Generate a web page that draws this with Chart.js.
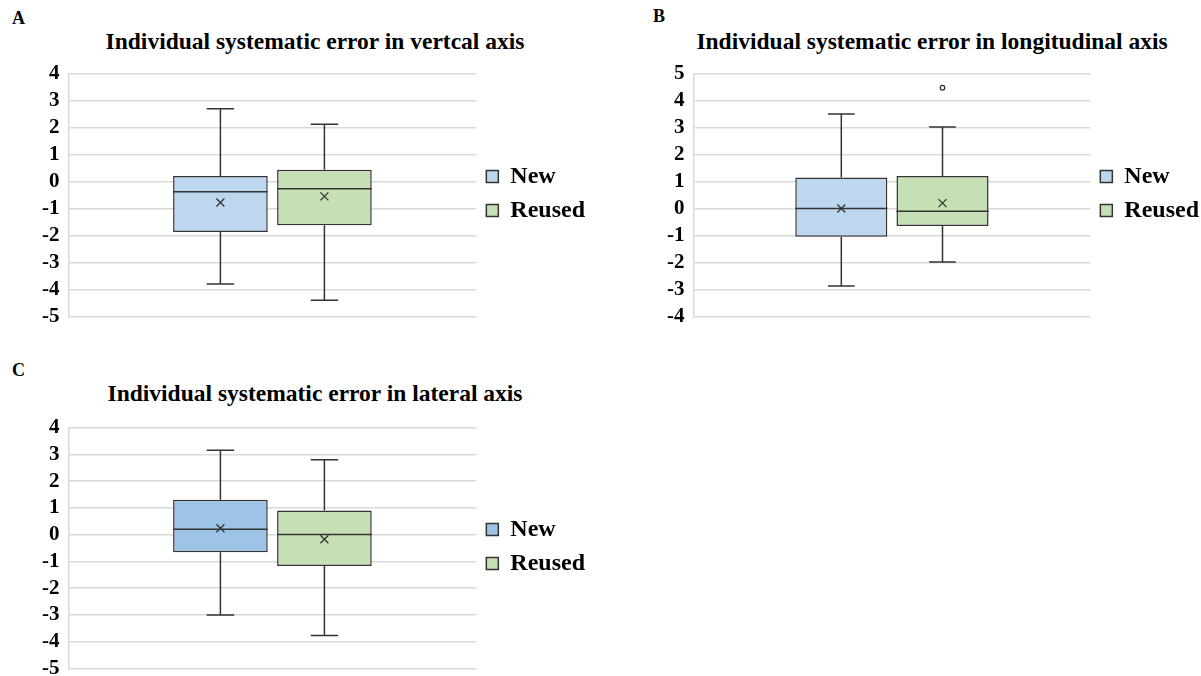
<!DOCTYPE html>
<html>
<head>
<meta charset="utf-8">
<script src="https://cdn.jsdelivr.net/npm/chart.js@4"></script>
<style>
    body { margin: 0; background: #fff; width: 1201px; height: 676px; overflow: hidden; position: relative; font-family: 'Liberation Serif', 'Times New Roman', serif; }
    .panel { position: absolute; font-weight: bold; font-size: 18px; color: #000; }
    .title { position: absolute; font-weight: bold; font-size: 23.5px; color: #000; text-align: center; white-space: nowrap; }
    canvas { position: absolute; }
</style>
</head>
<body>
<div class="panel" style="left:12px; top:8px;">A</div>
<div class="panel" style="left:653px; top:6px;">B</div>
<div class="panel" style="left:12px; top:360px;">C</div>

<div class="title" style="left:15px; width:600px; top:28px;">Individual systematic error in vertcal axis</div>
<div class="title" style="left:632px; width:600px; top:28px;">Individual systematic error in longitudinal axis</div>
<div class="title" style="left:15px; width:600px; top:380px;">Individual systematic error in lateral axis</div>

<canvas id="chartA" width="600" height="286" style="left:0; top:52px;"></canvas>
<canvas id="chartB" width="586" height="286" style="left:623px; top:52px;"></canvas>
<canvas id="chartC" width="600" height="284" style="left:0; top:406px;"></canvas>

<script>
// groups shown in every panel
const groups = ['New', 'Reused'];

// A: vertical axis (New, Reused)
const vertMin = [-3.8, -4.4];
const vertQ1 = [-1.87, -1.62];
const vertMedian = [-0.38, -0.27];
const vertQ3 = [0.2, 0.44];
const vertMax = [2.7, 2.12];
const vertMean = [-0.78, -0.55];
const vertOutliers = [[], []];

// B: longitudinal axis
const longMin = [-2.87, -1.98];
const longQ1 = [-1.05, -0.65];
const longMedian = [0, -0.1];
const longQ3 = [1.15, 1.2];
const longMax = [3.5, 3.02];
const longMean = [0, 0.2];
const longOutliers = [[], [4.48]];

// C: lateral axis
const latMin = [-3.0, -3.77];
const latQ1 = [-0.66, -1.17];
const latMedian = [0.2, 0];
const latQ3 = [1.3, 0.9];
const latMax = [3.15, 2.8];
const latMean = [0.24, -0.17];
const latOutliers = [[], []];

const serif = "'Liberation Serif', 'Times New Roman', serif";
const lineColor = '#333333';

// whiskers, median, mean cross and outliers on top of the floating bars
const boxWhiskers = {
    id: 'boxWhiskers',
    afterDatasetsDraw(chart) {
        const ctx = chart.ctx;
        const yScale = chart.scales.y;
        ctx.save();
        ctx.strokeStyle = lineColor;
        ctx.lineWidth = 1.5;
        chart.data.datasets.forEach((ds, i) => {
            const bar = chart.getDatasetMeta(i).data[0];
            const s = ds.stats;
            const x = bar.x;
            const half = bar.width / 2;
            const cap = bar.width * 0.145;
            const yMin = yScale.getPixelForValue(s.min);
            const yMax = yScale.getPixelForValue(s.max);
            const yQ1 = yScale.getPixelForValue(s.q1);
            const yQ3 = yScale.getPixelForValue(s.q3);
            const yMed = yScale.getPixelForValue(s.median);
            const yMean = yScale.getPixelForValue(s.mean);

            ctx.beginPath();
            // upper whisker
            ctx.moveTo(x, yQ3); ctx.lineTo(x, yMax);
            ctx.moveTo(x - cap, yMax); ctx.lineTo(x + cap, yMax);
            // lower whisker
            ctx.moveTo(x, yQ1); ctx.lineTo(x, yMin);
            ctx.moveTo(x - cap, yMin); ctx.lineTo(x + cap, yMin);
            // median
            ctx.moveTo(x - half, yMed); ctx.lineTo(x + half, yMed);
            ctx.stroke();

            // mean marker
            ctx.beginPath();
            const m = 4;
            ctx.moveTo(x - m, yMean - m); ctx.lineTo(x + m, yMean + m);
            ctx.moveTo(x + m, yMean - m); ctx.lineTo(x - m, yMean + m);
            ctx.lineWidth = 1.3;
            ctx.stroke();

            // outliers
            s.outliers.forEach(v => {
                ctx.beginPath();
                ctx.arc(x, yScale.getPixelForValue(v), 2.3, 0, Math.PI * 2);
                ctx.fillStyle = '#fff';
                ctx.fill();
                ctx.lineWidth = 1.2;
                ctx.stroke();
            });
            ctx.lineWidth = 1.5;
        });
        ctx.restore();
    }
};

function makeBoxChart(id, colors, mins, q1s, medians, q3s, maxs, means, outliers, yMin, yMax, padding) {
    const datasets = groups.map((g, i) => ({
        label: g,
        data: [[q1s[i], q3s[i]]],
        backgroundColor: colors[i],
        borderColor: lineColor,
        borderWidth: 1.5,
        borderSkipped: false,
        stats: {
            min: mins[i], q1: q1s[i], median: medians[i], q3: q3s[i],
            max: maxs[i], mean: means[i], outliers: outliers[i]
        }
    }));

    return new Chart(document.getElementById(id), {
        type: 'bar',
        data: { labels: [''], datasets: datasets },
        plugins: [boxWhiskers],
        options: {
            responsive: false,
            animation: false,
            layout: { padding: padding },
            categoryPercentage: 0.51,
            barPercentage: 0.91,
            plugins: {
                tooltip: { enabled: false },
                legend: {
                    position: 'right',
                    labels: {
                        color: '#000',
                        font: { family: serif, size: 24, weight: 'bold' },
                        boxWidth: 12,
                        boxHeight: 12,
                        padding: 10
                    }
                }
            },
            scales: {
                x: { display: false },
                y: {
                    min: yMin,
                    max: yMax,
                    ticks: {
                        stepSize: 1,
                        autoSkip: false,
                        color: '#000',
                        padding: 9,
                        font: { family: serif, size: 21, weight: 'bold' }
                    },
                    grid: { color: '#d9d9d9', lineWidth: 1.5, drawTicks: false },
                    border: { display: true, color: '#d9d9d9', width: 1.5 }
                }
            }
        }
    });
}

makeBoxChart('chartA', ['#BDD7EE', '#C5E0B4'],
    vertMin, vertQ1, vertMedian, vertQ3, vertMax, vertMean, vertOutliers,
    -5, 4, { left: 33, top: 4, bottom: 7, right: 5 });

makeBoxChart('chartB', ['#BDD7EE', '#C5E0B4'],
    longMin, longQ1, longMedian, longQ3, longMax, longMean, longOutliers,
    -4, 5, { left: 35, top: 4, bottom: 7, right: 0 });

makeBoxChart('chartC', ['#9DC3E6', '#C5E0B4'],
    latMin, latQ1, latMedian, latQ3, latMax, latMean, latOutliers,
    -5, 4, { left: 33, top: 4, bottom: 7, right: 5 });
</script>
</body>
</html>
